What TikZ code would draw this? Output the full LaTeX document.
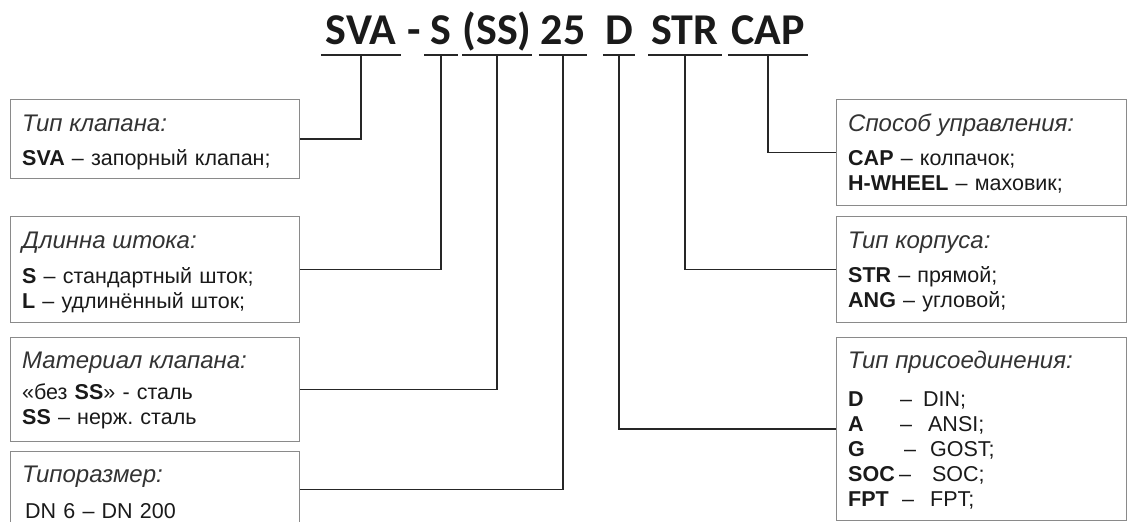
\documentclass[tikz,border=0pt]{standalone}
\usepackage{fontspec}
\setmainfont{Liberation Sans}
\newfontfamily\codefont{Carlito}
\definecolor{boxgray}{HTML}{8A8A8A}
\definecolor{linkgray}{HTML}{262626}
\definecolor{textgray}{HTML}{1A1A1A}
\definecolor{headgray}{HTML}{333333}
\tikzset{
  infobox/.style={draw=boxgray, line width=1.3pt, fill=white, anchor=north west, inner sep=0pt},
  code/.style={font=\codefont\bfseries\fontsize{44}{44}\selectfont, text=textgray, anchor=base, inner xsep=0pt},
  uline/.style={draw=linkgray, line width=2.2pt},
  link/.style={draw=linkgray, line width=1.6pt},
  head/.style={font=\itshape\fontsize{24}{28}\selectfont, text=headgray, anchor=base west, inner sep=0pt},
  body/.style={font=\fontsize{21.5}{25}\selectfont, text=textgray, anchor=base west, inner sep=0pt, text width=270pt, align=left}
}
\begin{document}
\begin{tikzpicture}[x=1pt,y=-1pt]
\useasboundingbox (0,0) rectangle (1128,522);
\clip (0,0) rectangle (1128,522);
% code string
\node[code, minimum width=80pt] (cSVA) at (361,45) {SVA};
\node[code] (cdash) at (414,45) {-};
\node[code, minimum width=33pt] (cS) at (441,45) {S};
\node[code, minimum width=60pt] (cSS) at (497,45) {(SS)};
\node[code, minimum width=48pt] (c25) at (563,45) {25};
\node[code, minimum width=32pt] (cD) at (619,45) {D};
\node[code, minimum width=73pt] (cSTR) at (685,45) {STR};
\node[code, minimum width=80pt] (cCAP) at (768,45) {CAP};
\foreach \c in {cSVA,cS,cSS,c25,cD,cSTR,cCAP}
  \draw[uline] ([yshift=-10pt]\c.base west) -- ([yshift=-10pt]\c.base east);
% left boxes
\node[infobox, minimum width=289pt, minimum height=79pt] (tip) at (10,99) {};
\node[infobox, minimum width=289pt, minimum height=106pt] (shtok) at (10,216) {};
\node[infobox, minimum width=289pt, minimum height=104pt] (mat) at (10,337) {};
\node[infobox, minimum width=289pt, minimum height=76pt] (razm) at (10,451) {};
% right boxes
\node[infobox, minimum width=290pt, minimum height=106pt] (upr) at (836,99) {};
\node[infobox, minimum width=290pt, minimum height=106pt] (korp) at (836,216) {};
\node[infobox, minimum width=290pt, minimum height=183pt] (pris) at (836,337) {};
% texts
\node[head] (tipH) at ([shift={(12pt,-32pt)}]tip.north west) {Тип клапана:};
\node[body] (tipB) at ([shift={(12pt,-66pt)}]tip.north west) {\textbf{SVA} – запорный клапан;};
\node[head] (shtokH) at ([shift={(12pt,-32pt)}]shtok.north west) {Длинна штока:};
\node[body] (shtokB) at ([shift={(12pt,-67pt)}]shtok.north west) {\textbf{S} – стандартный шток;\\\textbf{L} – удлинённый шток;};
\node[head] (matH) at ([shift={(12pt,-31pt)}]mat.north west) {Материал клапана:};
\node[body] (matB) at ([shift={(12pt,-62pt)}]mat.north west) {«без \textbf{SS}» - сталь\\\textbf{SS} – нерж.\ сталь};
\node[head] (razmH) at ([shift={(12pt,-31pt)}]razm.north west) {Типоразмер:};
\node[body] (razmB) at ([shift={(15pt,-67pt)}]razm.north west) {DN 6 – DN 200};
\node[head] (uprH) at ([shift={(12pt,-32pt)}]upr.north west) {Способ управления:};
\node[body] (uprB) at ([shift={(12pt,-66pt)}]upr.north west) {\textbf{CAP} – колпачок;\\\textbf{H-WHEEL} – маховик;};
\node[head] (korpH) at ([shift={(12pt,-32pt)}]korp.north west) {Тип корпуса:};
\node[body] (korpB) at ([shift={(12pt,-66pt)}]korp.north west) {\textbf{STR} – прямой;\\\textbf{ANG} – угловой;};
\node[head] (prisH) at ([shift={(12pt,-31pt)}]pris.north west) {Тип присоединения:};
\node[body] (prisB) at ([shift={(12pt,-69pt)}]pris.north west) {%
  \makebox[52pt][l]{\textbf{D}}–\hspace{11pt}DIN;\\
  \makebox[52pt][l]{\textbf{A}}–\hspace{16pt}ANSI;\\
  \makebox[56pt][l]{\textbf{G}}–\hspace{14pt}GOST;\\
  \makebox[51pt][l]{\textbf{SOC}}–\hspace{21pt}SOC;\\
  \makebox[54pt][l]{\textbf{FPT}}–\hspace{16pt}FPT;};
% connectors
\draw[link] (tip.east) -| ([yshift=-10pt]cSVA.base);
\draw[link] (shtok.east) -| ([yshift=-10pt]cS.base);
\draw[link] (mat.east) -| ([yshift=-10pt]cSS.base);
\draw[link] (razm.east) -| ([yshift=-10pt]c25.base);
\draw[link] (pris.west) -| ([yshift=-10pt]cD.base);
\draw[link] (korp.west) -| ([yshift=-10pt]cSTR.base);
\draw[link] (upr.west) -| ([yshift=-10pt]cCAP.base);
\end{tikzpicture}
\end{document}
